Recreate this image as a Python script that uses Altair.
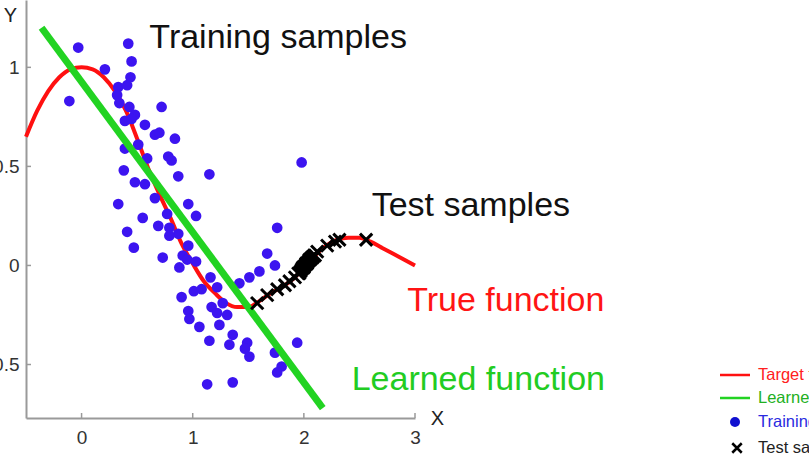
import altair as alt
import pandas as pd

# True (target) function, sampled along x
target_x = [-0.5, -0.4, -0.3, -0.2, -0.1, 0.0, 0.1, 0.2, 0.3, 0.4, 0.5, 0.6, 0.7, 0.8,
            0.9, 1.0, 1.1, 1.2, 1.3, 1.4, 1.5, 1.6, 1.7, 1.8, 1.9, 2.0, 2.1, 2.2, 2.3,
            2.4, 2.5, 2.6, 2.7, 2.8, 2.9, 3.0]
target_y = [0.65, 0.78, 0.88, 0.95, 0.99, 1.00, 0.99, 0.95, 0.88, 0.78, 0.64, 0.49, 0.36, 0.24,
            0.11, 0.01, -0.08, -0.14, -0.19, -0.21, -0.21, -0.18, -0.14, -0.11, -0.07, -0.01, 0.05, 0.10, 0.13,
            0.14, 0.14, 0.12, 0.09, 0.06, 0.03, 0.00]

# Learned (linear) function endpoints
learned_x = [-0.36, 2.17]
learned_y = [1.20, -0.72]

# Training samples
train_x = [-0.03, 0.42, 0.45, 0.21, 0.44, 0.33, 0.41, -0.11, 0.32, 0.34,
           0.43, 0.72, 0.48, 0.39, 0.45, 0.57, 0.66, 0.70, 0.84, 0.39,
           0.51, 0.59, 0.78, 0.81, 0.38, 0.87, 0.48, 0.57, 1.15, 1.98, 0.66,
           0.33, 0.96, 0.55, 0.77, 1.03, 0.69, 0.79, 0.41, 0.87, 0.79,
           0.47, 0.96, 0.73, 0.91, 0.95, 1.03, 0.88, 1.16, 1.01, 1.08,
           0.90, 1.17, 0.96, 0.97, 1.06, 1.15, 1.13,
           1.76, 1.67, 1.74, 1.60, 1.51, 1.42, 1.22, 1.27, 1.22, 1.31,
           1.24, 1.36, 1.33, 1.49, 1.47, 1.51, 1.94, 1.74, 1.80, 1.76, 1.36]
train_y = [1.10, 1.12, 1.03, 0.99, 0.95, 0.90, 0.91, 0.83, 0.86, 0.82,
           0.80, 0.80, 0.76, 0.73, 0.74, 0.71, 0.66, 0.67, 0.64, 0.59,
           0.61, 0.54, 0.55, 0.53, 0.48, 0.45, 0.42, 0.41, 0.46, 0.52, 0.34,
           0.31, 0.31, 0.24, 0.26, 0.25, 0.20, 0.19, 0.17, 0.16, 0.15,
           0.09, 0.10, 0.04, 0.05, 0.03, 0.02, -0.01, -0.06, -0.13, -0.12,
           -0.16, -0.21, -0.23, -0.27, -0.31, -0.38, -0.60,
           0.19, 0.06, 0.00, -0.03, -0.06, -0.09, -0.11, -0.19, -0.24, -0.25,
           -0.30, -0.35, -0.40, -0.39, -0.42, -0.46, -0.39, -0.44, -0.51, -0.54, -0.59]

# Test samples (dense cluster around x = 2)
test_x = [1.58, 1.67, 1.76, 1.83, 1.87, 1.92, 1.95, 1.96, 1.97, 1.98, 1.99, 2.00,
          2.01, 2.02, 2.03, 2.04, 2.05, 2.06, 2.07, 2.08, 2.09, 2.10, 2.12, 2.21,
          2.28, 2.32, 2.56]
test_y = [-0.19, -0.15, -0.12, -0.10, -0.08, -0.06, -0.04, -0.04, -0.03, -0.02, -0.01, -0.01,
          0.00, 0.01, 0.01, 0.02, 0.03, 0.03, 0.04, 0.04, 0.05, 0.05, 0.07, 0.10,
          0.12, 0.13, 0.13]

# Axis ticks
x_ticks = [0, 1, 2, 3]
y_ticks = [-0.5, 0, 0.5, 1]

# In-plot annotations
note_text = ["Training samples", "Test samples", "True function", "Learned function"]
note_x = [0.61, 2.61, 2.93, 2.43]
note_y = [1.10, 0.25, -0.23, -0.63]
note_color = ["#111111", "#111111", "#ff1414", "#22cc22"]

# Legend entries
legend_labels = ["Target function", "Learned function", "Training samples", "Test samples"]
legend_colors = ["#ff2020", "#22b022", "#2a2ae0", "#222222"]

RED = "#ff1010"
GREEN = "#22d322"
BLUE = "#3c14f0"
AXIS_GRAY = "#9a9a9a"
FONT = "Liberation Sans"
CROSS = "M-1,-1L1,1M-1,1L1,-1"

W, H = 389, 418
xs = alt.Scale(domain=[-0.5, 3.0], nice=False, zero=False)
ys = alt.Scale(domain=[-0.77, 1.34], nice=False, zero=False)

x_axis = alt.Axis(values=x_ticks, title="X", titleAngle=0, titleX=411, titleY=0,
                  titleAlign="center", titleBaseline="middle", labelPadding=10,
                  labelFlush=False, labelOverlap=False, labelExpr="datum.value + ''")
y_axis = alt.Axis(values=y_ticks, title="Y", titleAngle=0, titleX=-16, titleY=15,
                  titleAlign="center", titleBaseline="middle", labelPadding=7,
                  labelFlush=False, labelOverlap=False, labelExpr="datum.value + ''")

target_df = pd.DataFrame({"x": target_x, "y": target_y})
learned_df = pd.DataFrame({"x": learned_x, "y": learned_y})
train_df = pd.DataFrame({"x": train_x, "y": train_y})
test_df = pd.DataFrame({"x": test_x, "y": test_y})
notes_df = pd.DataFrame({"t": note_text, "x": note_x, "y": note_y, "c": note_color})

target = alt.Chart(target_df).mark_line(color=RED, strokeWidth=4, interpolate="monotone").encode(
    x=alt.X("x:Q", scale=xs, axis=x_axis),
    y=alt.Y("y:Q", scale=ys, axis=y_axis),
)
train = alt.Chart(train_df).mark_circle(color=BLUE, size=115, opacity=1).encode(
    x=alt.X("x:Q", scale=xs), y=alt.Y("y:Q", scale=ys))
learned = alt.Chart(learned_df).mark_line(color=GREEN, strokeWidth=7).encode(
    x=alt.X("x:Q", scale=xs), y=alt.Y("y:Q", scale=ys))
test = alt.Chart(test_df).mark_point(shape=CROSS, filled=False, color="black", size=150,
                                     strokeWidth=3, opacity=1).encode(
    x=alt.X("x:Q", scale=xs), y=alt.Y("y:Q", scale=ys))

notes = alt.Chart(notes_df).mark_text(align="left", baseline="alphabetic", fontSize=34,
                                      font=FONT).encode(
    x=alt.X("x:Q", scale=xs), y=alt.Y("y:Q", scale=ys),
    text="t:N", color=alt.Color("c:N", scale=None))

# Inward tick marks on both axes
xtick_marks = alt.Chart(pd.DataFrame({"v": x_ticks})).mark_rule(color=AXIS_GRAY, strokeWidth=1.5).encode(
    x=alt.X("v:Q", scale=xs), y=alt.value(H), y2=alt.value(H - 5))
ytick_marks = alt.Chart(pd.DataFrame({"v": y_ticks})).mark_rule(color=AXIS_GRAY, strokeWidth=1.5).encode(
    y=alt.Y("v:Q", scale=ys), x=alt.value(0), x2=alt.value(5))

# Legend box in the lower right corner
row_y = [375, 398, 422, 448]
legend_layers = []
for i, (lab, col) in enumerate(zip(legend_labels, legend_colors)):
    legend_layers.append(
        alt.Chart(pd.DataFrame({"t": [lab]})).mark_text(
            align="left", baseline="middle", fontSize=16.5, font=FONT, color=col
        ).encode(x=alt.value(732), y=alt.value(row_y[i]), text="t:N")
    )
legend_layers.append(alt.Chart(pd.DataFrame({"k": [0]})).mark_rule(color=RED, strokeWidth=2.5).encode(
    x=alt.value(694), x2=alt.value(724), y=alt.value(row_y[0])))
legend_layers.append(alt.Chart(pd.DataFrame({"k": [0]})).mark_rule(color=GREEN, strokeWidth=2.5).encode(
    x=alt.value(694), x2=alt.value(724), y=alt.value(row_y[1])))
legend_layers.append(alt.Chart(pd.DataFrame({"k": [0]})).mark_circle(color="#1010d0", size=100, opacity=1).encode(
    x=alt.value(709), y=alt.value(row_y[2])))
legend_layers.append(alt.Chart(pd.DataFrame({"k": [0]})).mark_point(
    shape=CROSS, filled=False, color="black", size=90, strokeWidth=2.5, opacity=1).encode(
    x=alt.value(711), y=alt.value(row_y[3])))

chart = alt.layer(
    target, train, learned, test, notes, xtick_marks, ytick_marks, *legend_layers
).properties(
    width=W, height=H,
    autosize=alt.AutoSizeParams(type="none"),
    padding={"left": 26, "top": 0, "right": 394, "bottom": 42},
    background="white",
).configure_view(stroke=None).configure_axis(
    grid=False, ticks=False, domainColor=AXIS_GRAY, domainWidth=2,
    labelFont=FONT, labelFontSize=19, labelColor="#333333",
    titleFont=FONT, titleFontSize=20, titleFontWeight="normal", titleColor="#222222",
)

chart.save("out.html", embed_options={"renderer": "svg", "actions": False})
